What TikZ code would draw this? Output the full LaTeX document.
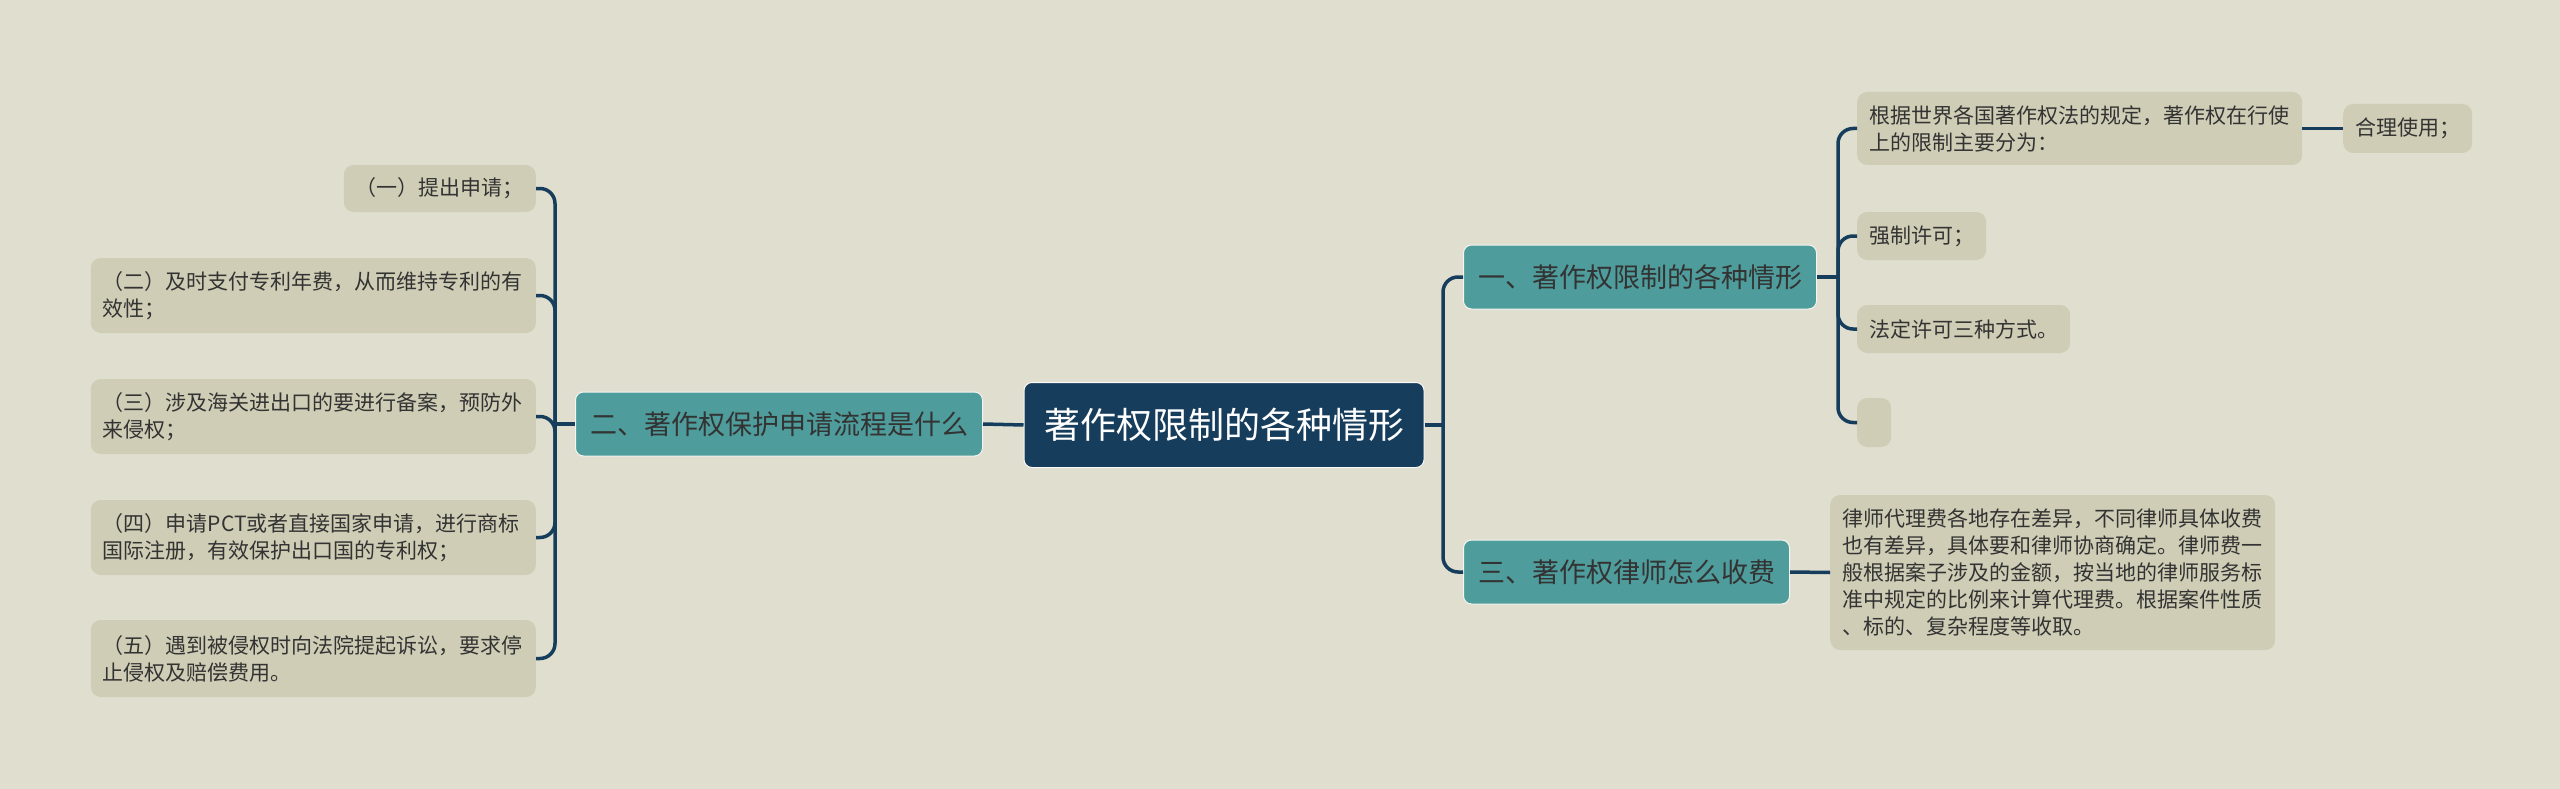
\documentclass[tikz,border=0pt]{standalone}
\usepackage{fontspec}
\setmainfont{Noto Sans CJK SC}
\definecolor{bgc}{HTML}{E0DECF}
\definecolor{navy}{HTML}{173D5C}
\definecolor{teal}{HTML}{4E9C9B}
\definecolor{leafc}{HTML}{CFCDB5}
\definecolor{txt}{HTML}{333333}
\tikzset{
  rootbox/.style={fill=navy, draw=white!85!bgc, line width=1pt, rounded corners=8pt, text=white,
    font=\fontsize{36pt}{42pt}\selectfont, inner xsep=20pt, minimum height=85pt},
  branchbox/.style={fill=teal, draw=white!70!bgc, line width=1pt, rounded corners=8pt, text=txt,
    font=\fontsize{27pt}{32pt}\selectfont, inner xsep=14.5pt, minimum height=64pt},
  leafbox/.style={fill=leafc, rounded corners=10pt, text=txt, align=left,
    font=\fontsize{21pt}{27pt}\selectfont, inner xsep=12pt, inner ysep=0pt},
  wideleaf/.style={leafbox, text width=421pt},
  conn/.style={draw=navy, line width=3.5pt, rounded corners=15pt},
}
\begin{document}
\begin{tikzpicture}[x=1pt,y=-1pt]
\fill[bgc] (0,0) rectangle (2560,789);
\useasboundingbox (0,0) rectangle (2560,789);

% root and branches
\node[rootbox] (root) at (1224,425) {著作权限制的各种情形};
\node[branchbox, anchor=east] (b2) at (983,424) {二、著作权保护申请流程是什么};
\node[branchbox, anchor=west] (b1) at (1463,277) {一、著作权限制的各种情形};
\node[branchbox, anchor=west] (b3) at (1463,572) {三、著作权律师怎么收费};

% left leaves
\node[leafbox, anchor=east, minimum height=47pt] (l1) at (536,188.5) {（一）提出申请；};
\node[wideleaf, anchor=east, minimum height=75pt] (l2) at (536,295.5) {（二）及时支付专利年费，从而维持专利的有\\效性；};
\node[wideleaf, anchor=east, minimum height=75pt] (l3) at (536,416.5) {（三）涉及海关进出口的要进行备案，预防外\\来侵权；};
\node[wideleaf, anchor=east, minimum height=75pt] (l4) at (536,537.5) {（四）申请PCT或者直接国家申请，进行商标\\国际注册，有效保护出口国的专利权；};
\node[wideleaf, anchor=east, minimum height=77pt] (l5) at (536,658.5) {（五）遇到被侵权时向法院提起诉讼，要求停\\止侵权及赔偿费用。};

% right leaves
\node[wideleaf, anchor=west, minimum height=73pt] (r1) at (1857,128.5) {根据世界各国著作权法的规定，著作权在行使\\上的限制主要分为：};
\node[leafbox, anchor=west, minimum height=49pt] (r1a) at (2343,128.5) {合理使用；};
\node[leafbox, anchor=west, minimum height=48pt] (r2) at (1857,236) {强制许可；};
\node[leafbox, anchor=west, minimum height=48pt] (r3) at (1857,329) {法定许可三种方式。};
\node[leafbox, anchor=west, minimum height=49pt, minimum width=34pt, inner xsep=0pt] (r4) at (1857,422.5) {};
\node[wideleaf, anchor=west, minimum height=155pt] (r5) at (1830,572.5) {律师代理费各地存在差异，不同律师具体收费\\也有差异，具体要和律师协商确定。律师费一\\般根据案子涉及的金额，按当地的律师服务标\\准中规定的比例来计算代理费。根据案件性质\\、标的、复杂程度等收取。};

% spine coordinates
\coordinate (sL) at (555,424);
\coordinate (sR) at (1443,425);
\coordinate (s1) at (1838,277);

% connectors
\draw[conn] (root.west) -- (b2.east);
\draw[conn] (b2.west) -- (sL);
\foreach \n in {l1,l2,l3,l4,l5} { \draw[conn] (sL) |- (\n.east); }
\draw[conn] (root.east) -- (sR);
\draw[conn] (sR) |- (b1.west);
\draw[conn] (sR) |- (b3.west);
\draw[conn] (b1.east) -- (s1);
\foreach \n in {r1,r2,r3,r4} { \draw[conn] (s1) |- (\n.west); }
\draw[conn] (r1.east) -- (r1a.west);
\draw[conn] (b3.east) -- (r5.west);
\end{tikzpicture}
\end{document}
